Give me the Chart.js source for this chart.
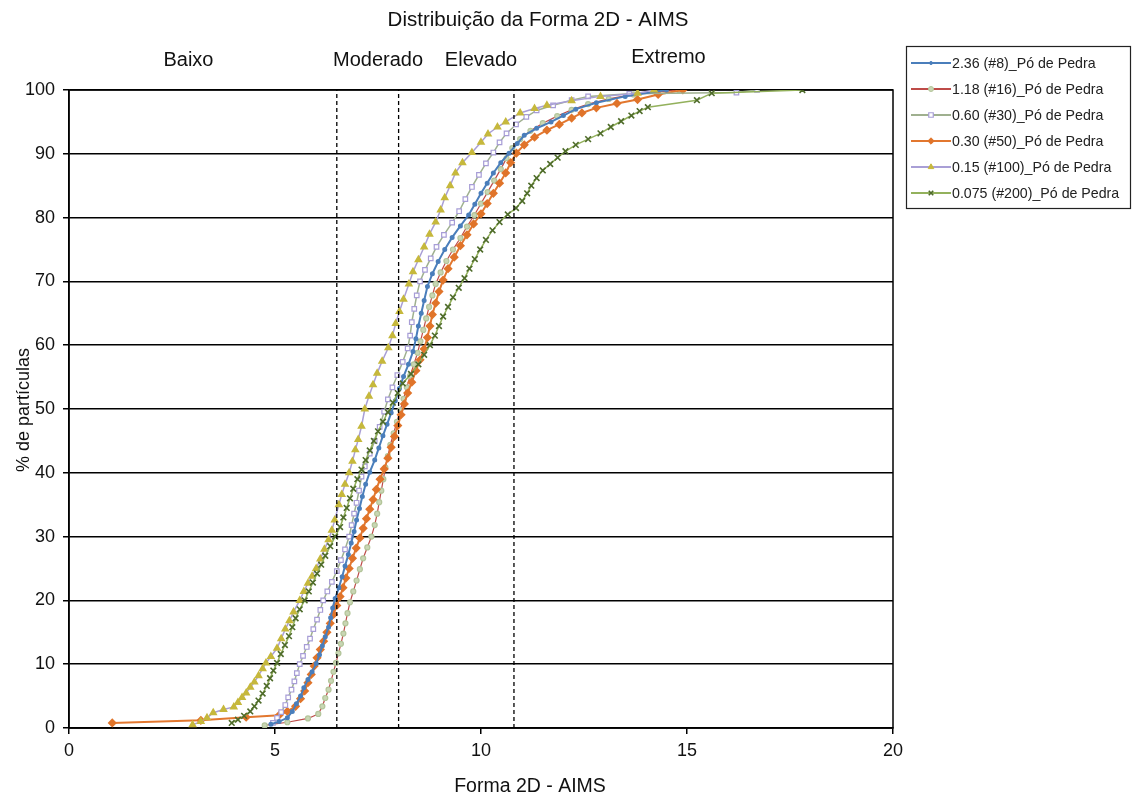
<!DOCTYPE html>
<html>
<head>
<meta charset="utf-8">
<script src="https://cdn.jsdelivr.net/npm/chart.js@4.4.1/dist/chart.umd.min.js"></script>
<style>
  body { margin: 0; background: #fff; }
</style>
</head>
<body>
<canvas id="formaChart" width="1135" height="802"></canvas>
<script>
// [forma 2D, % acumulado de partículas] por peneira
const serie8 = [[4.9,0.6],[5.1,1.0],[5.3,1.6],[5.42,2.6],[5.52,3.8],[5.62,5.0],[5.7,6.3],[5.8,7.6],[5.9,8.8],[6.0,10.1],
  [6.08,11.5],[6.15,12.9],[6.22,14.3],[6.3,15.8],[6.35,17.3],[6.4,18.8],[6.46,20.3],[6.55,22.0],[6.63,23.7],[6.7,25.4],
  [6.78,27.2],[6.85,29.0],[6.92,30.8],[6.98,32.6],[7.05,34.4],[7.12,36.3],[7.2,38.2],[7.3,40.1],[7.42,42.0],[7.52,43.9],
  [7.62,45.8],[7.72,47.6],[7.82,49.4],[7.92,51.3],[8.02,53.2],[8.12,55.1],[8.24,57.0],[8.35,59.0],[8.42,61.0],[8.48,63.0],
  [8.55,65.0],[8.62,67.0],[8.7,69.2],[8.82,71.2],[8.96,73.1],[9.12,75.0],[9.3,76.9],[9.5,78.7],[9.7,80.4],[9.85,82.1],
  [10.0,83.8],[10.15,85.4],[10.3,87.0],[10.48,88.6],[10.68,90.1],[10.88,91.6],[11.05,92.9],[11.35,94.0],[11.7,95.0],
  [12.0,96.0],[12.3,97.0],[12.8,98.0],[13.5,99.0],[14.5,100]];

const serie16 = [[4.75,0.4],[5.3,0.9],[5.8,1.5],[6.05,2.2],[6.15,3.4],[6.22,4.7],[6.3,6.0],[6.36,7.4],[6.42,8.8],[6.48,10.2],
  [6.54,11.7],[6.6,13.2],[6.66,14.8],[6.71,16.4],[6.76,18.0],[6.82,19.7],[6.9,21.4],[6.98,23.1],[7.06,24.9],[7.14,26.6],
  [7.24,28.3],[7.34,30.0],[7.42,31.8],[7.48,33.6],[7.53,35.4],[7.58,37.2],[7.63,39.0],[7.68,40.8],[7.74,42.6],[7.8,44.4],
  [7.88,46.2],[7.96,48.0],[8.04,49.8],[8.12,51.6],[8.2,53.4],[8.28,55.2],[8.37,57.0],[8.46,58.8],[8.53,60.6],[8.6,62.4],
  [8.67,64.2],[8.74,66.0],[8.82,67.8],[8.9,69.6],[9.02,71.4],[9.16,73.2],[9.32,75.0],[9.5,76.8],[9.66,78.6],[9.84,80.4],
  [10.0,82.2],[10.16,84.0],[10.32,85.8],[10.48,87.6],[10.62,89.3],[10.76,90.9],[10.95,92.3],[11.2,93.6],[11.5,94.8],
  [11.85,95.9],[12.2,96.9],[12.6,97.8],[13.1,98.6],[13.7,99.3],[14.8,100]];

const serie30 = [[4.95,0.8],[5.05,1.6],[5.15,2.5],[5.25,3.6],[5.32,4.8],[5.4,6.0],[5.47,7.3],[5.53,8.6],[5.6,10.0],[5.68,11.3],
  [5.77,12.7],[5.85,14.0],[5.93,15.5],[6.02,17.0],[6.1,18.5],[6.17,20.0],[6.27,21.4],[6.38,22.9],[6.5,24.6],[6.6,26.3],
  [6.7,28.0],[6.8,30.0],[6.86,31.8],[6.92,33.6],[6.98,35.3],[7.04,37.2],[7.1,39.4],[7.18,41.0],[7.3,43.0],[7.42,45.0],
  [7.54,47.2],[7.65,49.6],[7.74,51.5],[7.85,53.4],[7.97,55.3],[8.1,57.4],[8.22,59.5],[8.28,61.5],[8.32,63.6],[8.38,65.7],
  [8.44,67.8],[8.52,70.0],[8.64,71.8],[8.78,73.6],[8.92,75.4],[9.1,77.3],[9.3,79.2],[9.47,81.0],[9.62,82.9],[9.78,84.8],
  [9.95,86.7],[10.12,88.5],[10.3,90.2],[10.45,91.8],[10.62,93.2],[10.85,94.6],[11.1,95.8],[11.35,96.8],[11.75,97.6],
  [12.2,98.4],[12.6,99.0],[13.6,99.4],[16.2,99.6],[16.7,100]];

const serie50 = [[1.05,0.8],[3.2,1.2],[4.3,1.7],[5.1,2.0],[5.3,2.6],[5.5,3.4],[5.62,4.6],[5.72,5.8],[5.8,7.1],[5.88,8.4],
  [5.95,9.7],[6.02,11.0],[6.1,12.3],[6.18,13.6],[6.26,15.0],[6.34,16.4],[6.42,17.8],[6.5,19.2],[6.58,20.6],[6.65,22.0],
  [6.72,23.5],[6.8,25.0],[6.88,26.6],[6.97,28.2],[7.06,29.8],[7.14,31.3],[7.22,32.8],[7.3,34.3],[7.38,35.8],[7.46,37.4],
  [7.55,39.0],[7.65,40.6],[7.74,42.3],[7.82,44.0],[7.9,45.7],[7.98,47.4],[8.06,49.1],[8.14,50.8],[8.22,52.5],[8.32,54.2],
  [8.42,56.0],[8.52,57.7],[8.62,59.4],[8.7,61.2],[8.76,63.0],[8.82,64.8],[8.9,66.6],[8.98,68.4],[9.08,70.2],[9.2,72.0],
  [9.35,73.8],[9.5,75.6],[9.66,77.3],[9.82,79.0],[10.0,80.6],[10.15,82.2],[10.3,83.8],[10.45,85.4],[10.6,87.0],[10.72,88.6],
  [10.86,90.1],[11.05,91.4],[11.3,92.6],[11.6,93.7],[11.9,94.6],[12.2,95.6],[12.45,96.4],[12.8,97.2],[13.3,97.9],
  [13.8,98.5],[14.3,99.3],[14.9,100]];

const serie100 = [[3.0,0.5],[3.2,1.0],[3.35,1.6],[3.5,2.4],[3.75,2.9],[4.0,3.3],[4.1,4.0],[4.2,4.8],[4.3,5.5],[4.4,6.4],
  [4.5,7.2],[4.6,8.2],[4.7,9.3],[4.78,10.2],[4.9,11.2],[5.05,12.5],[5.15,14.0],[5.25,15.5],[5.35,16.8],[5.45,18.2],
  [5.6,20.0],[5.7,21.4],[5.8,22.7],[5.9,23.8],[6.0,25.0],[6.1,26.5],[6.2,28.0],[6.3,29.5],[6.38,31.0],[6.45,32.6],
  [6.55,35.0],[6.62,36.6],[6.7,38.2],[6.8,40.0],[6.88,41.8],[6.95,43.6],[7.02,45.2],[7.1,47.3],[7.18,50.0],[7.28,52.0],
  [7.38,53.8],[7.48,55.6],[7.6,57.5],[7.75,59.6],[7.85,61.5],[7.93,63.4],[8.02,65.3],[8.12,67.2],[8.25,69.6],[8.35,71.5],
  [8.48,73.4],[8.62,75.4],[8.75,77.4],[8.9,79.3],[9.02,81.2],[9.12,83.1],[9.25,85.0],[9.38,87.0],[9.55,88.6],[9.78,90.2],
  [10.0,91.8],[10.17,93.1],[10.4,94.2],[10.6,95.0],[10.95,96.4],[11.3,97.1],[11.6,97.6],[12.2,98.3],[12.9,99.0],
  [13.8,99.5],[14.2,100]];

const serie200 = [[3.95,0.8],[4.1,1.3],[4.25,1.9],[4.4,2.6],[4.5,3.4],[4.6,4.3],[4.7,5.4],[4.8,6.6],[4.88,7.8],[4.96,9.0],
  [5.05,10.2],[5.14,11.6],[5.24,13.0],[5.34,14.4],[5.42,15.8],[5.5,17.2],[5.6,18.6],[5.72,20.0],[5.82,21.4],[5.92,22.8],
  [6.02,24.2],[6.12,25.6],[6.22,27.0],[6.34,28.5],[6.46,30.0],[6.58,31.5],[6.66,33.0],[6.74,34.5],[6.82,36.0],[6.9,37.5],
  [7.0,39.0],[7.1,40.5],[7.2,42.0],[7.3,43.5],[7.4,45.0],[7.5,46.5],[7.62,48.0],[7.74,49.5],[7.86,51.0],[7.98,52.5],
  [8.1,54.0],[8.3,55.5],[8.48,57.0],[8.62,58.5],[8.76,60.0],[8.88,61.5],[8.98,63.0],[9.08,64.5],[9.2,66.0],[9.32,67.5],
  [9.46,69.0],[9.6,70.5],[9.72,72.0],[9.85,73.5],[9.98,75.0],[10.12,76.5],[10.28,78.0],[10.45,79.3],[10.65,80.5],
  [10.85,81.5],[11.0,82.6],[11.12,83.8],[11.22,85.0],[11.35,86.2],[11.5,87.4],[11.68,88.4],[11.86,89.4],[12.05,90.4],
  [12.3,91.4],[12.6,92.3],[12.9,93.2],[13.15,94.2],[13.4,95.1],[13.65,96.0],[13.85,96.7],[14.05,97.3],[15.24,98.4],
  [15.6,99.5],[17.8,100]];

const seriesLabels = ['2.36 (#8)_Pó de Pedra', '1.18 (#16)_Pó de Pedra', '0.60 (#30)_Pó de Pedra',
  '0.30 (#50)_Pó de Pedra', '0.15 (#100)_Pó de Pedra', '0.075 (#200)_Pó de Pedra'];

// limites das classes de forma e os nomes escritos acima do gráfico
const zoneLimits = [6.5, 8, 10.8];
const zoneNames = ['Baixo', 'Moderado', 'Elevado', 'Extremo'];
const zoneCenters = [2.9, 7.5, 10.0, 14.55];

const chartTitle = 'Distribuição da Forma 2D - AIMS';
const xTitle = 'Forma 2D - AIMS';
const yTitle = '% de partículas';

const FONT = '"Liberation Sans", Arial, sans-serif';
const pts = s => s.map(p => ({ x: p[0], y: p[1] }));

const curves = [
  { label: seriesLabels[0], data: pts(serie8), borderColor: '#4a7ebb', borderWidth: 2,
    pointStyle: 'circle', pointRadius: 1.5, pointBackgroundColor: '#4a7ebb', pointBorderColor: '#4a7ebb', order: 3 },
  { label: seriesLabels[1], data: pts(serie16), borderColor: '#be4b48', borderWidth: 1.2,
    pointStyle: 'circle', pointRadius: 2.5, pointBackgroundColor: '#c9d6b4', pointBorderColor: '#b3c59a', order: 6 },
  { label: seriesLabels[2], data: pts(serie30), borderColor: '#9fb08f', borderWidth: 1.5,
    pointStyle: 'rect', pointRadius: 3.2, pointBackgroundColor: '#ffffff', pointBorderColor: '#a79dd6', pointBorderWidth: 1.2, order: 4 },
  { label: seriesLabels[3], data: pts(serie50), borderColor: '#e2772f', borderWidth: 2,
    pointStyle: 'rectRot', pointRadius: 3.2, pointBackgroundColor: '#e0742a', pointBorderColor: '#e0742a', order: 5 },
  { label: seriesLabels[4], data: pts(serie100), borderColor: '#a99fd6', borderWidth: 1.5,
    pointStyle: 'triangle', pointRadius: 3.5, pointBackgroundColor: '#c6b83c', pointBorderColor: '#c6b83c', order: 2 },
  { label: seriesLabels[5], data: pts(serie200), borderColor: '#93b15c', borderWidth: 1.5,
    pointStyle: 'crossRot', pointRadius: 4, pointBackgroundColor: '#4e6b2a', pointBorderColor: '#4e6b2a', pointBorderWidth: 1.6, order: 1 }
].map(d => Object.assign({ showLine: true, tension: 0 }, d));

// linhas tracejadas verticais nos limites das classes
const limitLines = zoneLimits.map(v => ({
  data: [{ x: v, y: 0 }, { x: v, y: 100 }],
  showLine: true, borderColor: '#000', borderWidth: 1.3, borderDash: [4, 3],
  pointRadius: 0, order: 0
}));

const decor = {
  id: 'decor',
  beforeDatasetsDraw(chart) {
    const { ctx, chartArea: a } = chart;
    ctx.save();
    ctx.strokeStyle = '#000';
    ctx.lineWidth = 1.5;
    ctx.strokeRect(a.left, a.top, a.right - a.left, a.bottom - a.top);
    ctx.restore();
  },
  afterDraw(chart) {
    const { ctx, scales: { x } } = chart;
    ctx.save();
    ctx.fillStyle = '#111';
    ctx.textAlign = 'center';
    ctx.textBaseline = 'middle';

    ctx.font = '20.5px ' + FONT;
    ctx.fillText(chartTitle, 538, 20);

    ctx.font = '20px ' + FONT;
    zoneNames.forEach((t, i) => {
      ctx.fillText(t, x.getPixelForValue(zoneCenters[i]), i === 3 ? 57 : 60);
    });

    ctx.font = '19.5px ' + FONT;
    ctx.fillText(xTitle, 530, 787);

    ctx.save();
    ctx.translate(24, 410);
    ctx.rotate(-Math.PI / 2);
    ctx.font = '18px ' + FONT;
    ctx.fillText(yTitle, 0, 0);
    ctx.restore();

    // legenda
    ctx.strokeStyle = '#222';
    ctx.lineWidth = 1.2;
    ctx.strokeRect(906.5, 46.5, 224, 162);
    ctx.textAlign = 'left';
    ctx.font = '14.2px ' + FONT;
    curves.forEach((d, i) => {
      const yy = 63 + i * 26;
      ctx.strokeStyle = d.borderColor;
      ctx.lineWidth = 2;
      ctx.beginPath();
      ctx.moveTo(911, yy);
      ctx.lineTo(951, yy);
      ctx.stroke();
      ctx.fillStyle = d.pointBackgroundColor;
      ctx.strokeStyle = d.pointBorderColor;
      ctx.lineWidth = d.pointBorderWidth || 1;
      Chart.helpers.drawPoint(ctx, {
        pointStyle: d.pointStyle, radius: Math.min(d.pointRadius, 3.2), borderWidth: ctx.lineWidth, rotation: 0
      }, 931, yy);
      ctx.fillStyle = '#222';
      ctx.fillText(d.label, 952, yy + 1);
    });
    ctx.restore();
  }
};

new Chart(document.getElementById('formaChart').getContext('2d'), {
  type: 'scatter',
  data: { datasets: [...limitLines, ...curves] },
  options: {
    responsive: false,
    animation: false,
    layout: { padding: { left: 0, top: 90, right: 242, bottom: 0 } },
    plugins: { legend: { display: false }, title: { display: false }, tooltip: { enabled: false } },
    scales: {
      x: {
        type: 'linear', min: 0, max: 20,
        afterFit: s => { s.height = 74; },
        ticks: { stepSize: 5, color: '#111', font: { family: FONT, size: 18 }, padding: 6 },
        grid: { drawOnChartArea: false, drawTicks: true, tickLength: 6, color: '#000', lineWidth: 1.5 },
        border: { color: '#000', width: 1.5 }
      },
      y: {
        min: 0, max: 100,
        afterFit: s => { s.width = 69; },
        ticks: { stepSize: 10, color: '#111', font: { family: FONT, size: 18 }, padding: 8 },
        grid: { color: '#000', lineWidth: 1.5, tickLength: 6 },
        border: { color: '#000', width: 1.5 }
      }
    }
  },
  plugins: [decor]
});
</script>
</body>
</html>
